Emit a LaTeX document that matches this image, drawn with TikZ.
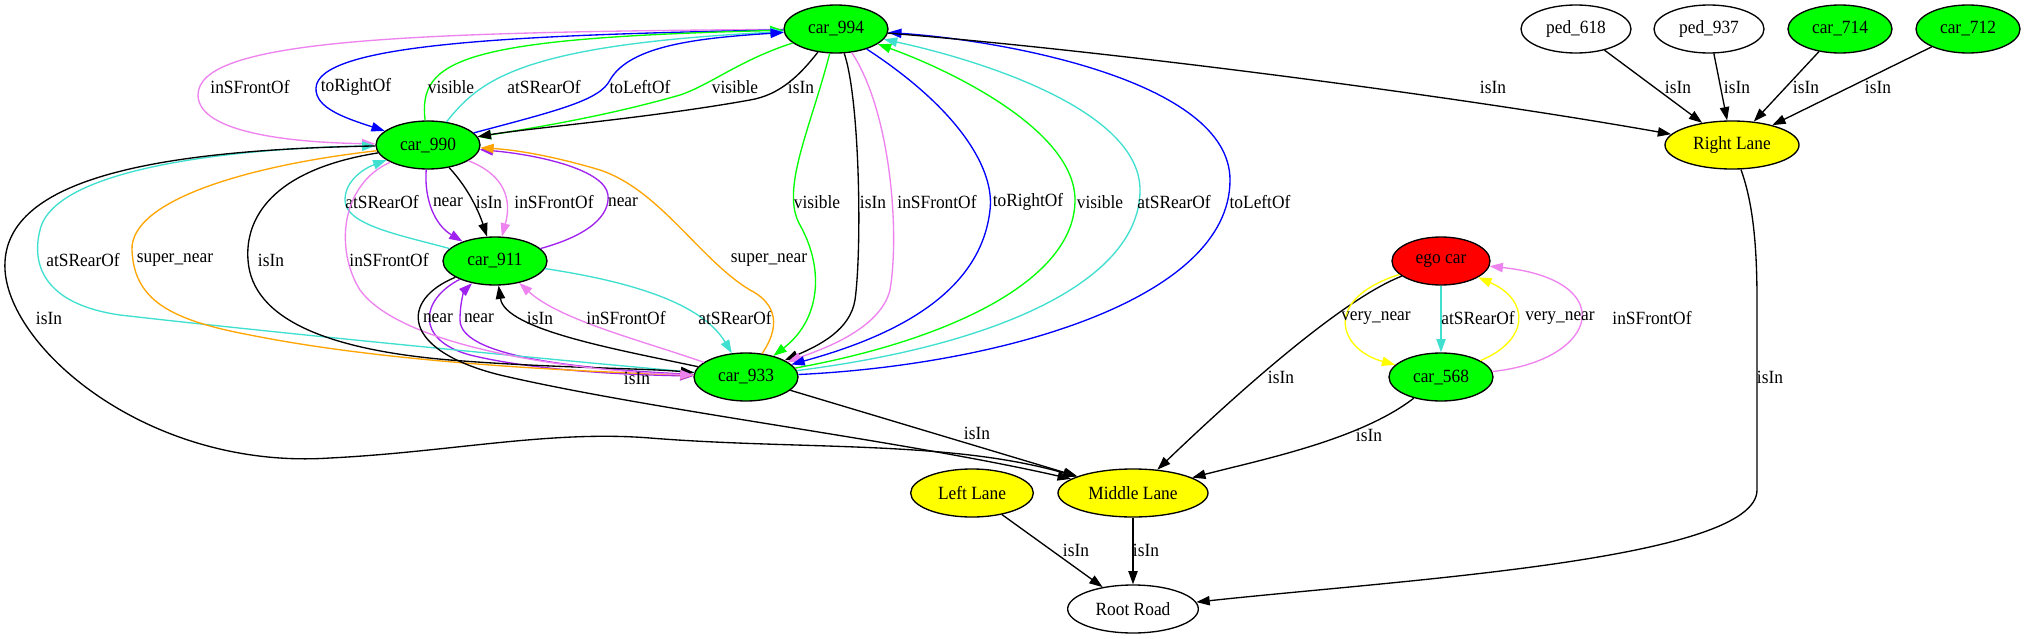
\documentclass[tikz,border=0pt]{standalone}
\usepackage{fontspec}
\setmainfont{Liberation Serif}[FakeStretch=0.93]
\usetikzlibrary{shapes.geometric,arrows.meta}
\definecolor{gvgreen}{HTML}{00FF00}
\definecolor{gvyellow}{HTML}{FFFF00}
\definecolor{gvred}{HTML}{FF0000}
\definecolor{gvblue}{HTML}{0000FF}
\definecolor{gvviolet}{HTML}{EE82EE}
\definecolor{gvturq}{HTML}{40E0D0}
\definecolor{gvorange}{HTML}{FFA500}
\definecolor{gvpurple}{HTML}{A020F0}
\begin{document}
\begin{tikzpicture}[x=0.75pt,y=-0.75pt,
  nd/.style={ellipse, draw=black, line width=1pt, inner sep=0pt, minimum height=36pt, font=\fontsize{14}{16}\selectfont},
  carn/.style={nd, fill=gvgreen, minimum width=78pt},
  pedn/.style={nd, fill=white, minimum width=82.5pt},
  lanen/.style={nd, fill=gvyellow},
  lbl/.style={font=\fontsize{14}{16}\selectfont, inner sep=0pt},
  edg/.style={-{Triangle[length=10pt,width=7pt]}, line width=1pt},
  cblack/.style={edg, draw=black},
  cgreen/.style={edg, draw=gvgreen},
  cblue/.style={edg, draw=gvblue},
  cviolet/.style={edg, draw=gvviolet},
  cturq/.style={edg, draw=gvturq},
  corange/.style={edg, draw=gvorange},
  cpurple/.style={edg, draw=gvpurple},
  cyellow/.style={edg, draw=gvyellow}]
\useasboundingbox (0,0) rectangle (2025,639);
\fill[white] (0,0) rectangle (2025,639);

% nodes
\node[carn] (c994) at (836,29) {car\_994};
\node[carn] (c990) at (428,145) {car\_990};
\node[carn] (c911) at (495,261) {car\_911};
\node[carn] (c933) at (746,377) {car\_933};
\node[pedn] (p618) at (1576,29) {ped\_618};
\node[pedn] (p937) at (1709,29) {ped\_937};
\node[carn] (c714) at (1840,29) {car\_714};
\node[carn] (c712) at (1968,29) {car\_712};
\node[lanen, minimum width=100.5pt] (rl) at (1732,145) {Right Lane};
\node[nd, fill=gvred, minimum width=73.5pt] (ego) at (1441,261) {ego car};
\node[carn] (c568) at (1441,377) {car\_568};
\node[lanen, minimum width=92pt] (ll) at (972,493) {Left Lane};
\node[lanen, minimum width=112.5pt] (ml) at (1133,493) {Middle Lane};
\node[nd, fill=white, minimum width=98pt] (rr) at (1133,609) {Root Road};

% car_994 <-> car_990
\draw[cviolet] (c994) .. controls (400,32) and (198,40) .. (198,95) .. controls (198,140) and (330,143) .. (c990);
\draw[cblue] (c994) .. controls (500,35) and (318,45) .. (316,88) .. controls (315,108) and (345,118) .. (c990);
\draw[cgreen] (c990) .. controls (418,60) and (460,38) .. (c994);
\draw[cturq] (c990) .. controls (480,80) and (520,45) .. (c994);
\draw[cblue] (c990) .. controls (560,110) and (600,100) .. (610,80) .. controls (630,45) and (700,38) .. (c994);
\draw[cgreen] (c994) .. controls (740,60) and (710,85) .. (680,95) .. controls (600,118) and (520,130) .. (c990);
\draw[cblack] (c994) .. controls (800,75) and (780,95) .. (750,100) .. controls (650,118) and (530,128) .. (c990);
\node[lbl] (t1) at (250,87) {inSFrontOf};
\node[lbl] (t2) at (356,87) {toRightOf};
\node[lbl] (t3) at (451,87) {visible};
\node[lbl] (t4) at (544,87) {atSRearOf};
\node[lbl] (t5) at (640,87) {toLeftOf};
\node[lbl] (t6) at (735,87) {visible};
\node[lbl] (t7) at (801,87) {isIn};

% car_994 <-> car_933
\draw[cgreen] (c994) .. controls (810,130) and (780,190) .. (800,225) .. controls (825,270) and (820,320) .. (c933);
\draw[cblack] (c994) .. controls (860,100) and (862,250) .. (855,300) .. controls (850,330) and (820,345) .. (c933);
\draw[cviolet] (c994) .. controls (890,110) and (900,230) .. (890,290) .. controls (880,330) and (820,350) .. (c933);
\draw[cblue] (c994) .. controls (960,110) and (995,170) .. (990,210) .. controls (980,300) and (880,340) .. (c933);
\draw[cgreen] (c933) .. controls (950,340) and (1075,280) .. (1075,200) .. controls (1075,130) and (950,70) .. (c994);
\draw[cturq] (c933) .. controls (1000,345) and (1140,280) .. (1140,190) .. controls (1140,110) and (980,60) .. (c994);
\draw[cblue] (c933) .. controls (1000,365) and (1230,300) .. (1230,180) .. controls (1230,80) and (1000,40) .. (c994);
\node[lbl] (u1) at (817,202) {visible};
\node[lbl] (u2) at (873,202) {isIn};
\node[lbl] (u3) at (937,202) {inSFrontOf};
\node[lbl] (u4) at (1028,202) {toRightOf};
\node[lbl] (u5) at (1100,202) {visible};
\node[lbl] (u6) at (1174,202) {atSRearOf};
\node[lbl] (u7) at (1260,202) {toLeftOf};

% right lane
\draw[cblack] (c994) .. controls (1100,50) and (1450,95) .. (rl);
\draw[cblack] (p618) -- (rl);
\draw[cblack] (p937) -- (rl);
\draw[cblack] (c714) -- (rl);
\draw[cblack] (c712) -- (rl);
\node[lbl] (v1) at (1493,87) {isIn};
\node[lbl] (v2) at (1678,87) {isIn};
\node[lbl] (v3) at (1737,87) {isIn};
\node[lbl] (v4) at (1806,87) {isIn};
\node[lbl] (v5) at (1878,87) {isIn};
\draw[cblack] (rl) .. controls (1752,200) and (1757,240) .. (1757,300) -- (1757,490) .. controls (1757,560) and (1400,580) .. (rr);
\node[lbl] (v6) at (1770,377) {isIn};

% car_990 <-> car_911
\draw[cturq] (c911) .. controls (400,235) and (345,225) .. (345,200) .. controls (345,180) and (365,168) .. (c990);
\draw[cpurple] (c990) .. controls (424,200) and (435,225) .. (c911);
\draw[cblack] (c990) .. controls (470,190) and (480,215) .. (c911);
\draw[cviolet] (c990) .. controls (505,175) and (512,200) .. (c911);
\draw[cpurple] (c911) .. controls (590,235) and (610,215) .. (608,195) .. controls (605,170) and (540,155) .. (c990);
\node[lbl] (w1) at (382,202) {atSRearOf};
\node[lbl] (w2) at (448,202) {near};
\node[lbl] (w3) at (489,202) {isIn};
\node[lbl] (w4) at (554,202) {inSFrontOf};
\node[lbl] (w5) at (623,202) {near};

% car_911 <-> car_933
\draw[cpurple] (c911) .. controls (420,300) and (415,340) .. (470,355) .. controls (540,372) and (640,375) .. (c933);
\draw[cpurple] (c933) .. controls (600,370) and (460,360) .. (460,320) .. controls (460,300) and (465,290) .. (c911);
\draw[cblack] (c933) .. controls (620,350) and (505,330) .. (c911);
\draw[cviolet] (c933) .. controls (640,340) and (560,320) .. (c911);
\draw[cturq] (c911) .. controls (620,280) and (700,300) .. (c933);
\node[lbl] (x1) at (438,318) {near};
\node[lbl] (x2) at (479,318) {near};
\node[lbl] (x3) at (540,318) {isIn};
\node[lbl] (x4) at (626,318) {inSFrontOf};
\node[lbl] (x5) at (735,318) {atSRearOf};

% car_990 <-> car_933
\draw[cturq] (c933) .. controls (500,355) and (250,330) .. (120,315) .. controls (50,305) and (30,270) .. (40,230) .. controls (55,165) and (250,148) .. (c990);
\draw[corange] (c990) .. controls (250,165) and (130,200) .. (132,250) .. controls (134,300) and (170,320) .. (250,335) .. controls (400,365) and (600,372) .. (c933);
\draw[cblack] (c990) .. controls (270,170) and (245,220) .. (248,260) .. controls (252,320) and (330,350) .. (450,360) .. controls (550,368) and (640,368) .. (c933);
\draw[cviolet] (c990) .. controls (340,185) and (335,250) .. (360,290) .. controls (400,345) and (560,370) .. (c933);
\draw[corange] (c933) .. controls (785,320) and (770,300) .. (750,290) .. controls (700,260) and (660,190) .. (600,170) .. controls (560,158) and (520,150) .. (c990);
\node[lbl] (y1) at (83,260) {atSRearOf};
\node[lbl] (y2) at (175,260) {super\_near};
\node[lbl] (y3) at (271,260) {isIn};
\node[lbl] (y4) at (389,260) {inSFrontOf};
\node[lbl] (y5) at (769,260) {super\_near};

% to middle lane
\draw[cblack] (c911) .. controls (400,300) and (400,350) .. (500,375) .. controls (650,410) and (900,440) .. (ml);
\node[lbl] (z1) at (637,378) {isIn};
\draw[cblack] (c990) .. controls (150,150) and (0,180) .. (5,270) .. controls (10,350) and (150,470) .. (330,458) .. controls (450,452) and (550,430) .. (650,438) .. controls (800,450) and (950,440) .. (ml);
\node[lbl] (z2) at (49,318) {isIn};
\draw[cblack] (c933) -- (ml);
\node[lbl] (z3) at (977,433) {isIn};
\draw[cblack] (ego) .. controls (1340,300) and (1230,400) .. (ml);
\node[lbl] (z4) at (1281,377) {isIn};
\draw[cblack] (c568) .. controls (1360,440) and (1260,460) .. (ml);
\node[lbl] (z5) at (1369,435) {isIn};

% ego car <-> car_568
\draw[cyellow] (ego) .. controls (1320,300) and (1340,350) .. (c568);
\draw[cturq] (ego) -- (c568);
\draw[cyellow] (c568) .. controls (1530,340) and (1530,300) .. (ego);
\draw[cviolet] (c568) .. controls (1600,360) and (1620,280) .. (ego);
\node[lbl] (q1) at (1376,318) {very\_near};
\node[lbl] (q2) at (1478,318) {atSRearOf};
\node[lbl] (q3) at (1560,318) {very\_near};
\node[lbl] (q4) at (1652,318) {inSFrontOf};

% to root road
\draw[cblack] (ll) -- (rr);
\draw[cblack] (ml) -- (rr);
\node[lbl] (r1) at (1076,550) {isIn};
\node[lbl] (r2) at (1146,550) {isIn};
\end{tikzpicture}
\end{document}
